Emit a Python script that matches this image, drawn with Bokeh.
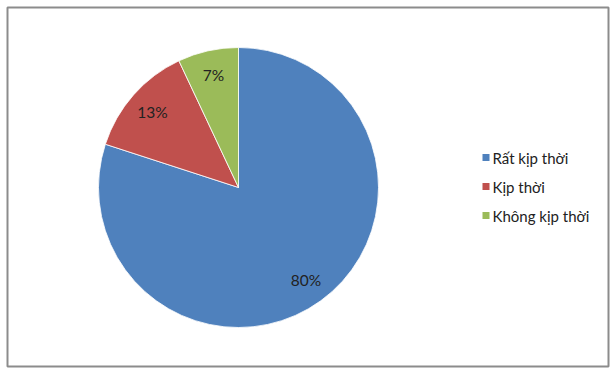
import numpy as np
from bokeh.plotting import figure
from bokeh.models import ColumnDataSource, Range1d
from bokeh.core.properties import value
from bokeh.embed import file_html
from bokeh.resources import INLINE

categories = ["Rất kịp thời", "Kịp thời", "Không kịp thời"]
values = [80, 13, 7]
labels = ["80%", "13%", "7%"]
colors = ["#4F81BD", "#C0504D", "#9BBB59"]

W, H = 615, 376
cx, cy, R = 238, H - 187, 140

# clockwise from 12 o'clock: compute anticlock angles
fr = np.array(values, dtype=float) / sum(values)
ends = np.pi / 2 - np.concatenate([[0], np.cumsum(fr)[:-1]]) * 2 * np.pi
starts = ends - fr * 2 * np.pi
mids = (starts + ends) / 2

src = ColumnDataSource(dict(x=[cx] * 3, y=[cy] * 3, start=starts, end=ends, color=colors,
                            lx=cx + 0.82 * R * np.cos(mids), ly=cy + 0.82 * R * np.sin(mids),
                            label=labels))

p = figure(width=W, height=H, x_range=Range1d(0, W), y_range=Range1d(0, H),
           output_backend="svg", toolbar_location=None, min_border=0)
p.axis.visible = False
p.grid.visible = False
p.outline_line_color = None
p.background_fill_color = "white"
p.border_fill_color = "white"

# chart frame
p.rect(x=[(7 + 608) / 2], y=[H - (7 + 366) / 2], width=[601], height=[359],
       fill_color=None, line_color="#8C8C8C", line_width=2)

p.wedge(x="x", y="y", radius=R, radius_units="screen", start_angle="start", end_angle="end",
        fill_color="color", line_color="white", line_width=0.8, source=src)

p.text(x="lx", y="ly", text="label", source=src, text_align="center", text_baseline="middle",
       text_font=value("Lato"), text_font_size="15.5px", text_color="#222222")

# legend
lg_y = [H - 157, H - 186, H - 215]
lsrc = ColumnDataSource(dict(x=[485.5] * 3, y=lg_y, color=colors, name=categories,
                             tx=[492] * 3))
p.rect(x="x", y="y", width=7, height=7, width_units="screen", height_units="screen",
       fill_color="color", line_color=None, source=lsrc)
p.text(x="tx", y="y", text="name", source=lsrc, text_align="left", text_baseline="middle",
       text_font=value("Lato"), text_font_size="15px", text_color="#222222")

open("out.html", "w").write(file_html(p, INLINE))
